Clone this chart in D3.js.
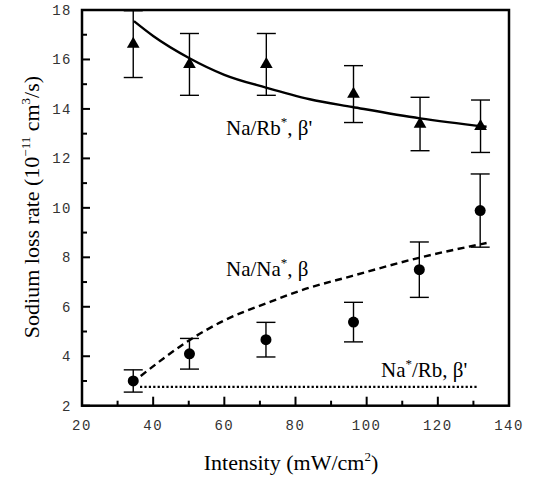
<!DOCTYPE html>
<html><head><meta charset="utf-8">
<script src="https://cdn.jsdelivr.net/npm/d3@7"></script>
<style>body{margin:0;background:#fff}svg{display:block}</style>
</head><body>
<script>
// ---- data ----
const rbIntensity = [34.4, 50.2, 71.8, 96.3, 115.0, 132.0];
const rbRate      = [16.62, 15.8, 15.8, 14.6, 13.39, 13.3];
const rbErr       = [1.35, 1.25, 1.25, 1.15, 1.08, 1.06];

const naIntensity = [34.4, 50.2, 71.7, 96.3, 114.8, 131.9];
const naRate      = [3.0, 4.1, 4.67, 5.38, 7.5, 9.89];
const naErr       = [0.45, 0.62, 0.70, 0.80, 1.12, 1.48];

const fitRbX = [34.6, 40, 50.2, 60, 71.7, 84, 96, 115, 133.7];
const fitRbY = [17.55, 16.95, 16.05, 15.38, 14.86, 14.39, 14.08, 13.62, 13.28];

const fitNaX = [36.5, 50.2, 60, 72, 81.3, 96, 114.7, 133.7];
const fitNaY = [3.2, 4.65, 5.45, 6.15, 6.65, 7.25, 7.98, 8.58];

const fitNaStarX = [36.3, 131.4];
const fitNaStarY = [2.76, 2.76];

const xTicks = [20, 40, 60, 80, 100, 120, 140];
const xMinor = [30, 50, 70, 90, 110, 130];
const yTicks = [2, 4, 6, 8, 10, 12, 14, 16, 18];
const yMinor = [3, 5, 7, 9, 11, 13, 15, 17];

// ---- layout ----
const W = 539, H = 481;
const m = {left: 82, top: 10, right: 509, bottom: 405.7};
const svg = d3.select("body").append("svg").attr("width", W).attr("height", H);
const x = d3.scaleLinear().domain([20, 140]).range([m.left, m.right]);
const y = d3.scaleLinear().domain([2, 18]).range([m.bottom, m.top]);

// ticks (inward)
const g = svg.append("g");
g.selectAll(".xt").data(xTicks).join("line")
  .attr("x1", d => x(d)).attr("x2", d => x(d)).attr("y1", m.bottom).attr("y2", m.bottom - 9)
  .attr("stroke", "#000").attr("stroke-width", 2);
g.selectAll(".xm").data(xMinor).join("line")
  .attr("x1", d => x(d)).attr("x2", d => x(d)).attr("y1", m.bottom).attr("y2", m.bottom - 5)
  .attr("stroke", "#000").attr("stroke-width", 2);
g.selectAll(".yt").data(yTicks).join("line")
  .attr("x1", m.left).attr("x2", m.left + 8).attr("y1", d => y(d)).attr("y2", d => y(d))
  .attr("stroke", "#000").attr("stroke-width", 2);
g.selectAll(".ym").data(yMinor).join("line")
  .attr("x1", m.left).attr("x2", m.left + 5).attr("y1", d => y(d)).attr("y2", d => y(d))
  .attr("stroke", "#000").attr("stroke-width", 2);

// frame
svg.append("rect").attr("x", m.left).attr("y", m.top)
  .attr("width", m.right - m.left).attr("height", m.bottom - m.top)
  .attr("fill", "none").attr("stroke", "#000").attr("stroke-width", 2.5);

// tick labels
const tf = "'Liberation Mono', 'DejaVu Sans Mono', monospace";
svg.selectAll(".xl").data(xTicks).join("text")
  .attr("x", d => x(d)).attr("y", 430).attr("text-anchor", "middle")
  .attr("font-family", tf).attr("font-size", 14).attr("letter-spacing", 1.5).attr("fill", "#333")
  .text(d => d);
svg.selectAll(".yl").data(yTicks).join("text")
  .attr("x", 72).attr("y", d => y(d) + 5).attr("text-anchor", "end")
  .attr("font-family", tf).attr("font-size", 14).attr("letter-spacing", 1.5).attr("fill", "#333")
  .text(d => d);

// axis titles
const sf = "'Liberation Serif', 'Times New Roman', serif";
const xt = svg.append("text").attr("x", 291).attr("y", 470).attr("text-anchor", "middle")
  .attr("font-family", sf).attr("font-size", 22).attr("fill", "#000");
xt.append("tspan").text("Intensity (mW/cm");
xt.append("tspan").attr("font-size", 13).attr("dy", -9).text("2");
xt.append("tspan").attr("dy", 9).text(")");

const yt = svg.append("text").attr("transform", "translate(39,207) rotate(-90)")
  .attr("text-anchor", "middle").attr("font-family", sf).attr("font-size", 22).attr("fill", "#000");
yt.append("tspan").text("Sodium loss rate (10");
yt.append("tspan").attr("font-size", 13).attr("dy", -9).text("\u221211");
yt.append("tspan").attr("dy", 9).text(" cm");
yt.append("tspan").attr("font-size", 13).attr("dy", -9).text("3");
yt.append("tspan").attr("dy", 9).text("/s)");

// fit curves
const line = d3.line().x(d => x(d[0])).y(d => y(d[1])).curve(d3.curveMonotoneX);
svg.append("path").datum(d3.zip(fitRbX, fitRbY)).attr("d", line)
  .attr("fill", "none").attr("stroke", "#000").attr("stroke-width", 2.4);
svg.append("path").datum(d3.zip(fitNaX, fitNaY)).attr("d", line)
  .attr("fill", "none").attr("stroke", "#000").attr("stroke-width", 2.4).attr("stroke-dasharray", "7,4.5");
svg.append("path").datum(d3.zip(fitNaStarX, fitNaStarY)).attr("d", line)
  .attr("fill", "none").attr("stroke", "#000").attr("stroke-width", 2.2).attr("stroke-dasharray", "2.2,2.2");

// error bars
function errBars(xs, ys, es) {
  const d = d3.zip(xs, ys, es);
  const gg = svg.append("g").attr("stroke", "#000").attr("stroke-width", 1.4);
  gg.selectAll(".v").data(d).join("line")
    .attr("x1", d => x(d[0])).attr("x2", d => x(d[0]))
    .attr("y1", d => y(d[1] + d[2])).attr("y2", d => y(d[1] - d[2]));
  gg.selectAll(".t").data(d).join("line")
    .attr("x1", d => x(d[0]) - 9.5).attr("x2", d => x(d[0]) + 9.5)
    .attr("y1", d => y(d[1] + d[2])).attr("y2", d => y(d[1] + d[2]));
  gg.selectAll(".b").data(d).join("line")
    .attr("x1", d => x(d[0]) - 9.5).attr("x2", d => x(d[0]) + 9.5)
    .attr("y1", d => y(d[1] - d[2])).attr("y2", d => y(d[1] - d[2]));
}
errBars(rbIntensity, rbRate, rbErr);
errBars(naIntensity, naRate, naErr);

// markers
const tri = d3.symbol().type(d3.symbolTriangle).size(70);
svg.selectAll(".tri").data(d3.zip(rbIntensity, rbRate)).join("path")
  .attr("d", tri).attr("transform", d => `translate(${x(d[0])},${y(d[1])})`).attr("fill", "#000");
svg.selectAll(".cir").data(d3.zip(naIntensity, naRate)).join("circle")
  .attr("cx", d => x(d[0])).attr("cy", d => y(d[1])).attr("r", 5.5).attr("fill", "#000");

// curve labels
function label(px, py, parts) {
  const t = svg.append("text").attr("x", px).attr("y", py)
    .attr("font-family", sf).attr("font-size", 21).attr("fill", "#000");
  parts.forEach(p => {
    if (p.sup) t.append("tspan").attr("font-size", 13).attr("dy", -9).text(p.s);
    else t.append("tspan").attr("dy", p.after ? 9 : 0).text(p.s);
  });
}
label(226, 135, [{s: "Na/Rb"}, {s: "*", sup: true}, {s: ", \u03B2'", after: true}]);
label(226, 276, [{s: "Na/Na"}, {s: "*", sup: true}, {s: ", \u03B2", after: true}]);
label(381, 377, [{s: "Na"}, {s: "*", sup: true}, {s: "/Rb, \u03B2'", after: true}]);
</script>
</body></html>
